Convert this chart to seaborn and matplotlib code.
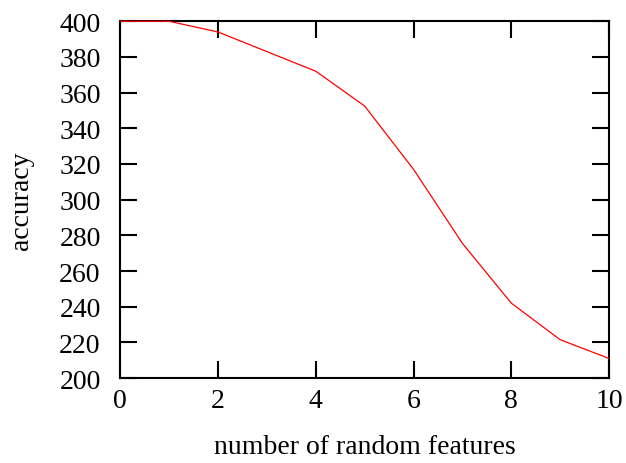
import matplotlib
matplotlib.use("Agg")
import matplotlib.pyplot as plt
import pandas as pd
import seaborn as sns

num_features = [0, 1, 2, 3, 4, 5, 6, 7, 8, 9, 10]
accuracy = [400, 400, 394, 383, 372, 352.5, 317, 275.5, 242, 221.5, 211]


def plot_accuracy(path_file):
    sns.set_theme(style="ticks")
    plt.rcParams['font.family'] = ['Liberation Serif', 'DejaVu Serif']

    df = pd.DataFrame({'features': num_features, 'accuracy': accuracy})

    fig, ax = plt.subplots(figsize=(6.26, 4.64), dpi=100)
    fig.subplots_adjust(left=0.192, right=0.973, top=0.952, bottom=0.183)
    sns.lineplot(x='features', y='accuracy', data=df, ax=ax, color='red', linewidth=0.9,
                 zorder=5, clip_on=False)

    ax.set_xlim(0, 10)
    ax.set_ylim(200, 400)
    ax.set_xticks(range(0, 11, 2))
    ax.set_yticks(range(200, 401, 20))
    ax.tick_params(direction='in', length=12, width=1.5, top=True, right=True,
                   labelsize=20, colors='black', labelcolor='black', pad=14)
    ax.tick_params(axis='x', pad=7)
    for spine in ax.spines.values():
        spine.set_visible(True)
        spine.set_linewidth(1.5)
        spine.set_color('black')
        spine.set_zorder(2)
    ax.set_xlabel('number of random features', fontsize=20, labelpad=15, color='black')
    ax.set_ylabel('accuracy', fontsize=20, labelpad=18, color='black')
    fig.savefig(path_file, dpi=100)
    plt.close(fig)


plot_accuracy('out.png')
